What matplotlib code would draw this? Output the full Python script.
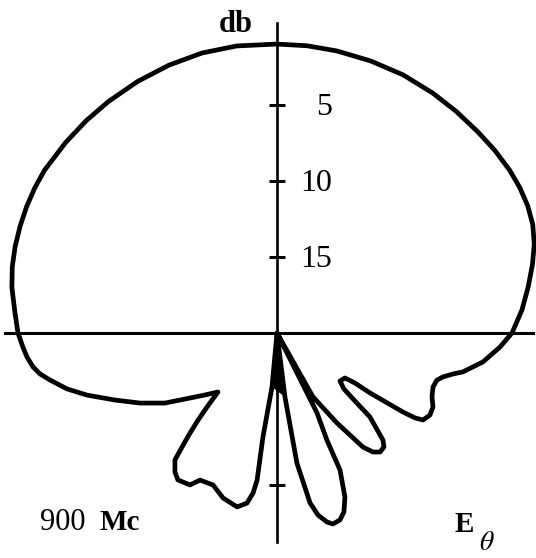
import numpy as np
import matplotlib
matplotlib.use("Agg")
import matplotlib.pyplot as plt

# E-theta pattern at 900 Mc: bearing (deg, clockwise from the top) and level (db down)
angle_deg = [0, 6, 12, 19, 26, 33, 39, 45, 50, 55, 59, 63, 67, 71, 75, 79.6, 84.6, 90,
             93.6, 98, 101.8, 103.1, 104.8, 106.4, 109.1, 112.4, 115.4, 118.2, 120.8,
             121.6, 122.1, 122.8, 122.7, 123.5, 127.3, 129.9, 131.1, 132.1, 135.3,
             136.8, 139.1, 141.1, 143, 146.3, 150.6, 151.5,
             153.4, 155, 155.3, 157.5, 159.5, 161.4, 163.7, 165.2, 167.3, 169,
             171.3, 172.9, 179,
             185.3, 187.7, 187.7, 188.5, 190.0, 192.9, 198.1, 202.8, 207.6, 209.8,
             214.0, 216.3, 218.8, 219.8, 221, 222.2, 223.4, 225,
             229.3, 233.2, 238, 242.9, 247.5, 251.9, 255.1, 258.3, 260.2, 262.1,
             264.5, 266.8, 270,
             274.4, 279.8, 284, 288.2, 292.5, 296.7, 301, 305, 312, 318, 324, 331,
             338, 345, 352, 360]
level_db = [0.99, 1.0, 1.03, 1.07, 1.1, 1.18, 1.25, 1.3, 1.3, 1.32, 1.38, 1.5, 1.72,
            2.1, 2.6, 3.2, 3.81, 4.54,
            5.30, 6.32, 7.50, 8.11, 8.70, 9.03, 9.14, 8.97, 8.64, 8.58, 8.82,
            9.34, 10.22, 12.72, 13.9, 14.64, 14.79, 14.26, 13.19, 11.76, 10.09,
            9.72, 9.64, 9.94, 10.6, 12.88, 15.17, 20,
            14.12, 12.23, 10.08, 8.32, 7.43, 7.02, 6.91, 7.14, 7.72, 8.61,
            11.35, 15.76, 20,
            16.43, 13.1, 10.24, 9.36, 8.64, 8.26, 8.58, 9.15, 9.08, 8.48,
            8.34, 8.66, 9.28, 10.24, 11.28, 12.27, 13.30, 14.51,
            13.75, 12.86, 11.3, 9.88, 8.47, 6.85, 5.70, 4.75, 4.18, 3.79,
            3.48, 3.26, 2.96,
            2.71, 2.30, 2.05, 1.86, 1.7, 1.55, 1.42, 1.33, 1.28, 1.22, 1.16, 1.08,
            1.0, 0.93, 0.93, 0.99]

up_ticks = [5, 10, 15]
down_ticks = [5, 10]
tick_labels = ["5", "10", "15"]

plt.rcParams["font.family"] = ["Liberation Serif", "DejaVu Serif"]
plt.rcParams["mathtext.fontset"] = "stix"

W, H = 536, 558
px_per_db = 15.2
r_out = -2.0
R = (20 - r_out) * px_per_db
cx, cy = 277, H - 333

fig = plt.figure(figsize=(W / 100, H / 100), dpi=100)
ax = fig.add_axes([(cx - R) / W, (cy - R) / H, 2 * R / W, 2 * R / H],
                  projection="polar")
ax.set_theta_zero_location("N")
ax.set_theta_direction(-1)
ax.set_rlim(20, r_out)
ax.axis("off")

# reference axes through the origin
ax.plot([0, 0], [20, -0.4], color="black", lw=1.9)
ax.plot([np.pi, np.pi], [20, 6.25], color="black", lw=1.9)
ax.plot([np.pi / 2, np.pi / 2], [20, 3.16], color="black", lw=2.2)
ax.plot([1.5 * np.pi, 1.5 * np.pi], [20, 2.1], color="black", lw=2.2)

ax.plot(np.zeros(len(up_ticks)), up_ticks, ls="none", marker="_",
        ms=11, mew=2, color="black")
ax.plot(np.full(len(down_ticks), np.pi), down_ticks, ls="none", marker="_",
        ms=11, mew=2, color="black")
for lvl, lab in zip(up_ticks, tick_labels):
    ax.annotate(lab, xy=(0, lvl), xytext=(55, -2), textcoords="offset pixels",
                ha="right", va="center", fontsize=23)

ax.annotate("db", xy=(0, -0.4), xytext=(-24, -2), textcoords="offset pixels",
            ha="right", va="center", fontsize=22, fontweight="bold")

theta = np.radians(angle_deg)
lev = np.array(level_db)
ax.plot(theta, lev, color="black", lw=3.4,
        solid_joinstyle="round", solid_capstyle="round", zorder=5)

# the narrow wedges where neighbouring lobes meet at the origin are inked solid
for i in np.flatnonzero(lev == 20):
    ax.fill(theta[i - 1:i + 2], lev[i - 1:i + 2], color="black", lw=0, zorder=5)

fig.text(40 / W, 1 - 523 / H, "900", fontsize=22, va="center", ha="left")
fig.text(99 / W, 1 - 523 / H, "Mc", fontsize=21, va="center", ha="left",
         fontweight="bold")
fig.text(455 / W, 1 - 524 / H, "E", fontsize=21, va="center", ha="left",
         fontweight="bold")
fig.text(479 / W, 1 - 543 / H, r"$\theta$", fontsize=20, va="center",
         ha="left")

fig.savefig("out.png", dpi=100)
